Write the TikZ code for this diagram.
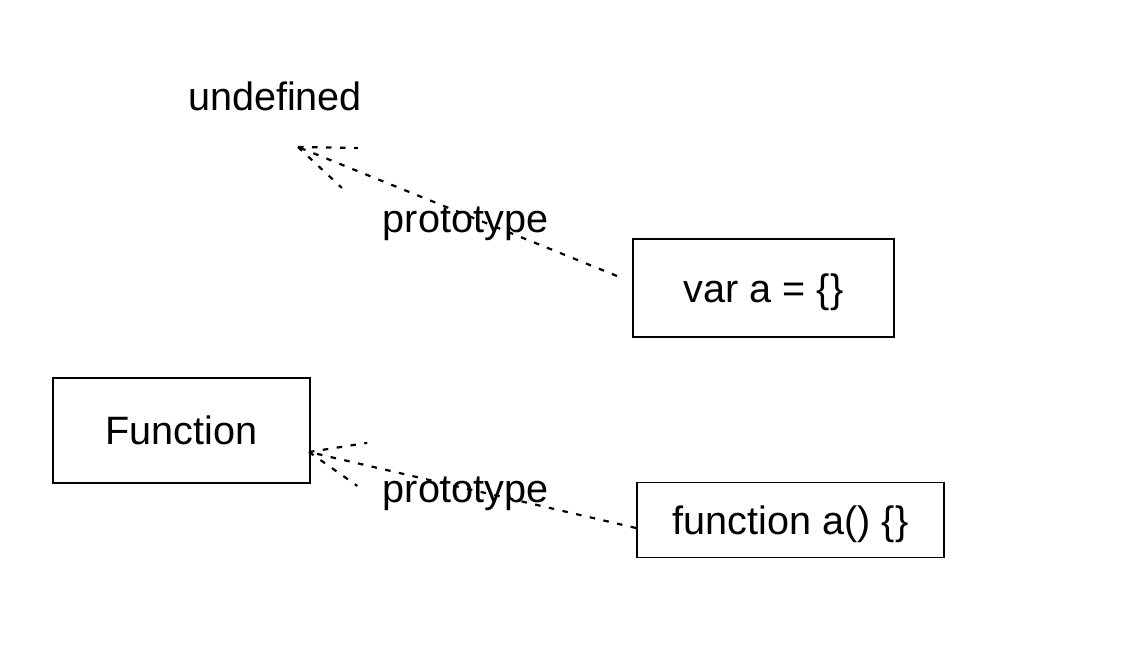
\documentclass[tikz,border=0pt]{standalone}
\usepackage{fontspec}
\setmainfont{Liberation Sans}
\usetikzlibrary{calc}
\begin{document}
\begin{tikzpicture}[x=0.5pt,y=-0.5pt,
  box/.style={draw=black,line width=0.75pt,inner sep=0pt,text depth=0pt,font=\fontsize{19.8}{24}\selectfont},
  lbl/.style={inner sep=0pt,font=\fontsize{19.8}{24}\selectfont},
  edge/.style={line width=1.1pt,dash pattern=on 2.75pt off 4.25pt}]
\useasboundingbox[fill=white] (0,0) rectangle (1136,646);
\node[lbl] (undef) at (275,96) {undefined};
\node[box,minimum width=130.5pt,minimum height=49pt] (var) at (763.5,288) {var a = \{\}};
\node[box,minimum width=128.5pt,minimum height=52.5pt] (Func) at (181.5,430.5) {Function};
\node[box,minimum width=153.5pt,minimum height=37.5pt] (fa) at (790.5,520) {function a() \{\}};
\coordinate (s1) at (617,276);
\coordinate (t1) at (298,147);
\coordinate (s2) at (636,528);
\coordinate (t2) at (309,452);
\draw[edge] (s1) -- (t1);
\draw[edge] (t1) -- ($(t1)!30pt!21:(s1)$);
\draw[edge] (t1) -- ($(t1)!30pt!-21:(s1)$);
\draw[edge] (s2) -- (t2);
\draw[edge] (t2) -- ($(t2)!29.5pt!22:(s2)$);
\draw[edge] (t2) -- ($(t2)!29.5pt!-22:(s2)$);
\node[lbl,anchor=base] (p1) at (465.5,233) {prototype};
\node[lbl,anchor=base] (p2) at (465.5,503) {prototype};
\end{tikzpicture}
\end{document}
